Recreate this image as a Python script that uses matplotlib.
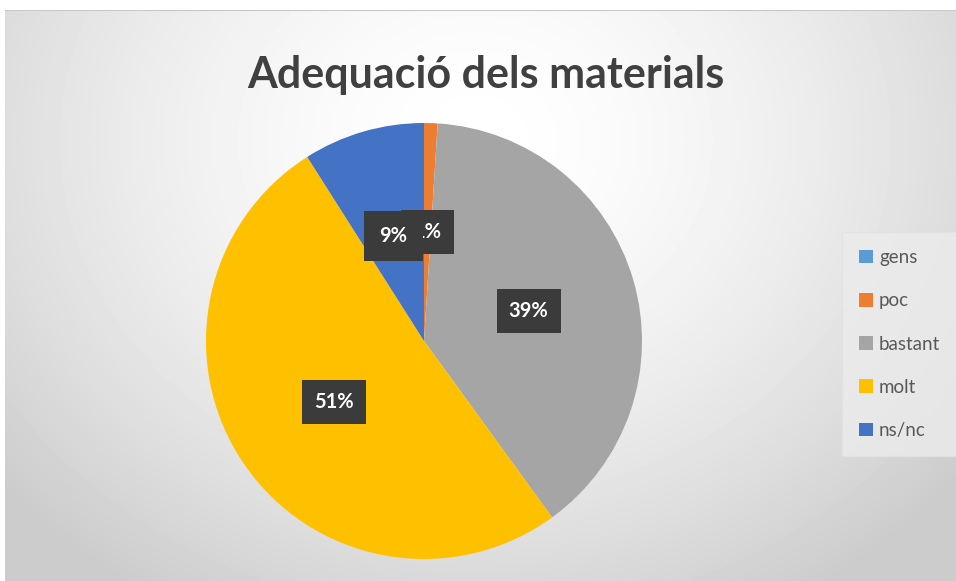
import numpy as np
import matplotlib.pyplot as plt

categories = ['gens', 'poc', 'bastant', 'molt', 'ns/nc']
values = [0, 1, 39, 51, 9]
colors = ['#5B9BD5', '#ED7D31', '#A5A5A5', '#FFC000', '#4472C4']
title = 'Adequació dels materials'

W, H = 956, 581
fig = plt.figure(figsize=(W / 100, H / 100), dpi=100)
fig.patch.set_facecolor('white')

# radial gradient background of the chart area
bg = fig.add_axes([5 / W, 0, 1 - 5 / W, 1 - 10 / H])
yy, xx = np.mgrid[0:571, 0:951]
d = np.sqrt(((xx - 470) / 560) ** 2 + ((yy - 130) / 480) ** 2)
shade = np.clip(1.0 - 0.17 * d ** 1.6, 0.80, 1.0)
bg.imshow(shade, cmap='gray', vmin=0, vmax=1, aspect='auto', extent=[0, 1, 0, 1], origin='upper')
bg.plot([0, 1], [1, 1], color='#c8c8c8', lw=1.5, transform=bg.transAxes)
bg.set_axis_off()

# pie
cx, cy, r = 424, 341, 218
ax = fig.add_axes([(cx - r) / W, (H - cy - r) / H, 2 * r / W, 2 * r / H])
wedges, texts, autotexts = ax.pie(
    values, colors=colors, startangle=90, counterclock=False,
    autopct=lambda p: f'{p:.0f}%' if p > 0.5 else '', pctdistance=0.5,
    wedgeprops=dict(linewidth=0),
    textprops=dict(color='white', fontsize=14.5, fontweight='bold', family='Lato'))
for t in autotexts:
    t.set_bbox(dict(boxstyle='square,pad=0.6', facecolor='#3b3b3b', edgecolor='none'))
# the ns/nc label box overlaps the small poc label, as in the original
autotexts[-1].set_bbox(dict(boxstyle='square,pad=0.75', facecolor='#3b3b3b', edgecolor='none'))
ax.set_xlim(-1, 1)
ax.set_ylim(-1, 1)
ax.set_aspect('equal')

fig.text(0.508, 1 - 75 / H, title, ha='center', va='center', fontsize=31,
         fontweight='bold', color='#404040', family='Lato')

# legend
leg = fig.legend(wedges, categories, loc='center left', bbox_to_anchor=(833 / W, 1 - 344 / H),
                 frameon=True, labelspacing=1.4, handlelength=0.75,
                 handleheight=0.75, handletextpad=0.3, borderpad=0.9, fancybox=False,
                 prop=dict(family='Lato', size=13.5))
leg.get_frame().set_facecolor('#ececec')
leg.get_frame().set_edgecolor('#e2e2e2')
for t in leg.get_texts():
    t.set_color('#595959')

fig.savefig('out.png', dpi=100)
